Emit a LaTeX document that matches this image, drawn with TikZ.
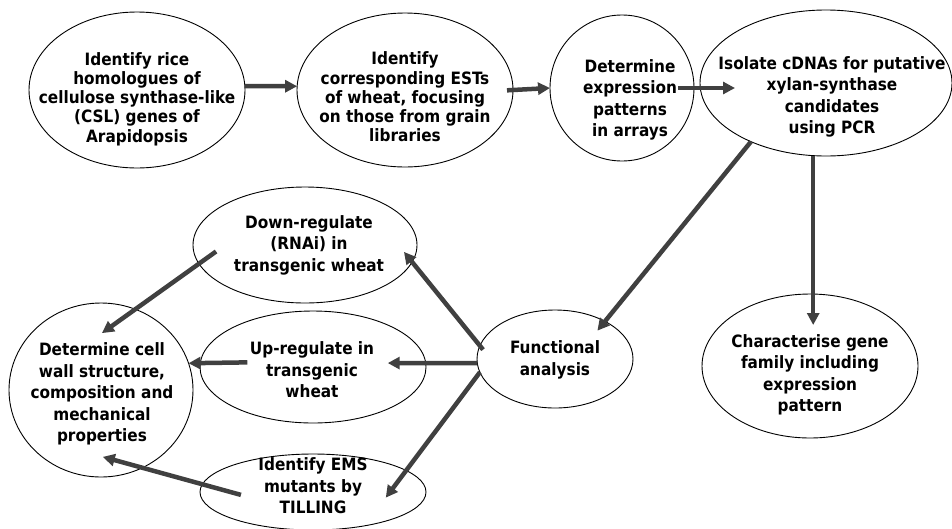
\documentclass[tikz,border=0pt]{standalone}
\usepackage{fontspec}
\setmainfont{DejaVu Sans Condensed}
\usepackage{xcolor}
\usetikzlibrary{arrows.meta,shapes.geometric}
\definecolor{ink}{HTML}{404040}

\begin{document}
\begin{tikzpicture}[
    x=1pt, y=-1pt,
    stage/.style 2 args={ellipse, draw=black, line width=0.9pt, minimum width=#1, minimum height=#2, inner sep=0pt, outer sep=0pt},
    lbl/.style={align=center, font=\fontsize{17}{21.5}\selectfont\bfseries, inner sep=0pt},
    tight/.style={font=\fontsize{17}{19.3}\selectfont\bfseries},
    arr/.style={-{Triangle[length=12pt,width=12pt]}, line width=4.5pt, draw=ink}
  ]
  \useasboundingbox (0,0) rectangle (952,528);

  % stages
  \node[stage={216pt}{156pt}] (rice) at (137,90) {};
  \node[stage={216pt}{154pt}] (ests) at (405,90) {};
  \node[stage={144pt}{146pt}] (arrays) at (622,88) {};
  \node[stage={252pt}{146pt}] (iso) at (826,83) {};
  \node[stage={224pt}{116pt}] (down) at (305,245) {};
  \node[stage={184pt}{174pt}] (cell) at (101,390) {};
  \node[stage={226pt}{112pt}] (up) at (313,367) {};
  \node[stage={226pt}{76pt}] (ems) at (313,492) {};
  \node[stage={156pt}{98pt}] (func) at (555,359) {};
  \node[stage={216pt}{144pt}] (char) at (810,366) {};

  % texts
  \node[lbl, tight] (rice-t) at (137,99) {Identify rice\\homologues of\\cellulose synthase-like\\(CSL) genes of\\Arapidopsis};
  \node[lbl, tight] (ests-t) at (405,97) {Identify\\corresponding ESTs\\of wheat, focusing\\on those from grain\\libraries};
  \node[lbl] (arrays-t) at (630,100) {Determine\\expression\\patterns\\in arrays};
  \node[lbl] (iso-t) at (832,97) {Isolate cDNAs for putative\\xylan-synthase\\candidates\\using PCR};
  \node[lbl] (down-t) at (309,245) {Down-regulate\\(RNAi) in\\transgenic wheat};
  \node[lbl] (cell-t) at (102,394) {Determine cell\\wall structure,\\composition and\\mechanical\\properties};
  \node[lbl] (up-t) at (312,370) {Up-regulate in\\transgenic\\wheat};
  \node[lbl] (ems-t) at (313,486) {Identify EMS\\mutants by\\TILLING};
  \node[lbl] (func-t) at (555,360) {Functional\\analysis};
  \node[lbl] (char-t) at (810,375) {Characterise gene\\family including\\expression\\pattern};

  % flow
  \draw[arr] (rice.2) -- (ests.178);
  \draw[arr, shorten <=-6pt] (ests.east) -- (arrays.west);
  \draw[arr, shorten <=-16pt, shorten >=-35pt] (arrays.east) -- (arrays.east -| iso.west);
  \draw[arr, shorten >=-12pt] (iso.218) -- (func.37);
  \draw[arr, shorten >=-31pt] (iso.260) -- (iso.260 |- char.north);
  \draw[arr, shorten <=-5pt, shorten >=-13pt] (func.170) -- (down.-9);
  \draw[arr, shorten >=-38pt] (func.183) -- (up.2);
  \draw[arr, shorten >=-34pt] (func.190) -- (ems.13);
  \draw[arr, shorten <=-21pt, shorten >=-41pt] (down.190) -- (cell.67);
  \draw[arr, shorten <=-47pt] (up.178) -- (cell.17);
  \draw[arr, shorten <=-40pt, shorten >=-41pt] (ems.176) -- (cell.-62);
\end{tikzpicture}
\end{document}
